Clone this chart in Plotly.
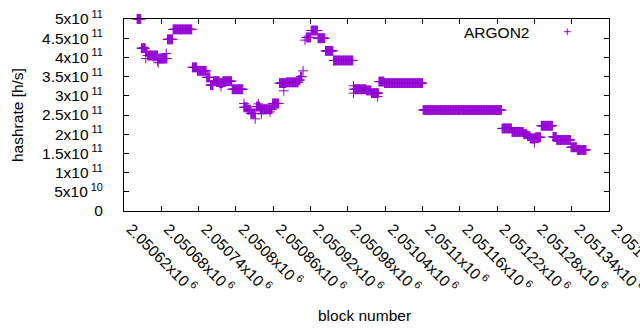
import numpy as np
import plotly.graph_objects as go

# Runs of consecutive blocks with a constant hashrate estimate (h/s)
seg_start = [2050641, 2050648, 2050655, 2050658, 2050676, 2050690, 2050699, 2050730,
             2050738, 2050753, 2050759, 2050764, 2050774, 2050779, 2050794, 2050813,
             2050819, 2050824, 2050833, 2050839, 2050859, 2050870, 2050881, 2050901,
             2050904, 2050913, 2050921, 2050932, 2050944, 2050957, 2050990, 2051010,
             2051018, 2051030, 2051039, 2051101, 2051228, 2051244, 2051263, 2051269,
             2051274, 2051282, 2051291, 2051310, 2051316, 2051339, 2051349]
seg_end = [2050647, 2050654, 2050657, 2050674, 2050689, 2050698, 2050729, 2050737,
           2050752, 2050758, 2050763, 2050773, 2050778, 2050793, 2050811, 2050818,
           2050823, 2050831, 2050838, 2050858, 2050869, 2050880, 2050900, 2050903,
           2050906, 2050920, 2050931, 2050943, 2050956, 2050988, 2051009, 2051017,
           2051029, 2051038, 2051100, 2051227, 2051243, 2051262, 2051268, 2051273,
           2051281, 2051290, 2051309, 2051315, 2051338, 2051348, 2051363]
seg_rate = [5.00e11, 4.24e11, 4.15e11, 4.05e11, 3.97e11, 4.47e11, 4.73e11, 3.74e11,
            3.65e11, 3.48e11, 3.28e11, 3.38e11, 3.33e11, 3.38e11, 3.17e11, 2.70e11,
            2.64e11, 2.54e11, 2.72e11, 2.65e11, 2.80e11, 3.33e11, 3.35e11, 3.41e11,
            3.50e11, 4.52e11, 4.70e11, 4.50e11, 4.17e11, 3.92e11, 3.17e11, 3.14e11,
            3.07e11, 3.37e11, 3.33e11, 2.63e11, 2.15e11, 2.06e11, 2.00e11, 1.95e11,
            1.89e11, 1.92e11, 2.22e11, 1.93e11, 1.85e11, 1.66e11, 1.59e11]

# Isolated blocks
pt_block = [2050655, 2050674, 2050675, 2050688, 2050776, 2050813, 2050831, 2050836,
            2050841, 2050855, 2050877, 2050908, 2050911, 2050989, 2050989, 2051028,
            2051280]
pt_rate = [3.97e11, 3.91e11, 3.86e11, 4.10e11, 3.24e11, 2.80e11, 2.40e11, 2.79e11,
           2.53e11, 2.58e11, 3.13e11, 3.65e11, 4.45e11, 3.26e11, 3.07e11, 2.98e11,
           1.78e11]

x_tick_vals = [2050620 + 60 * i for i in range(14)]
x_tick_mant = ["2.05062", "2.05068", "2.05074", "2.0508", "2.05086", "2.05092", "2.05098",
               "2.05104", "2.0511", "2.05116", "2.05122", "2.05128", "2.05134", "2.0514"]
y_tick_vals = [0, 5e10, 1e11, 1.5e11, 2e11, 2.5e11, 3e11, 3.5e11, 4e11, 4.5e11, 5e11]
y_tick_text = ["0", "5x10<sup> 10</sup>", "1x10<sup> 11</sup>", "1.5x10<sup> 11</sup>",
               "2x10<sup> 11</sup>", "2.5x10<sup> 11</sup>", "3x10<sup> 11</sup>",
               "3.5x10<sup> 11</sup>", "4x10<sup> 11</sup>", "4.5x10<sup> 11</sup>",
               "5x10<sup> 11</sup>"]

xs, ys = [], []
for s, e, r in zip(seg_start, seg_end, seg_rate):
    for b in range(s, e + 1):
        xs.append(b)
        ys.append(r)
xs += pt_block
ys += pt_rate

COLOR = "#9400D3"
FONT = "Liberation Sans, Arial, sans-serif"
FS = 15.5

fig = go.Figure()
fig.add_trace(go.Scatter(
    x=xs, y=ys, mode="markers", name="ARGON2", cliponaxis=False,
    marker=dict(symbol="cross-thin", size=7, color=COLOR,
                line=dict(color=COLOR, width=1)),
    showlegend=False, hoverinfo="skip",
))

L, R, T, B = 124, 31, 19, 119
W, H = 640, 330
pw, ph = W - L - R, H - T - B

def px2paper(px, py):
    return (px - L) / pw, (H - B - py) / ph

# legend (gnuplot style: text then sample)
ax_, ay_ = px2paper(531, 32)
fig.add_annotation(x=ax_, y=ay_, xref="paper", yref="paper", text="ARGON2",
                   showarrow=False, xanchor="right", yanchor="middle",
                   font=dict(family=FONT, size=FS, color="black"))
cx, cy = px2paper(567.3, 31.7)
dx, dy = 3.3 / pw, 3.3 / ph
fig.add_shape(type="line", xref="paper", yref="paper", x0=cx - dx, x1=cx + dx, y0=cy, y1=cy,
              line=dict(color=COLOR, width=1))
fig.add_shape(type="line", xref="paper", yref="paper", x0=cx, x1=cx, y0=cy - dy, y1=cy + dy,
              line=dict(color=COLOR, width=1))

# axis titles
tx, ty = px2paper(17, 115)
fig.add_annotation(x=tx, y=ty, xref="paper", yref="paper", text="hashrate [h/s]",
                   textangle=-90, showarrow=False, xanchor="center", yanchor="middle",
                   font=dict(family=FONT, size=FS, color="black"))
bx, by = px2paper(364, 315)
fig.add_annotation(x=bx, y=by, xref="paper", yref="paper", text="block number",
                   showarrow=False, xanchor="center", yanchor="middle",
                   font=dict(family=FONT, size=FS, color="black"))

fig.update_layout(
    width=W, height=H,
    margin=dict(l=L, r=R, t=T, b=B, pad=0),
    paper_bgcolor="white", plot_bgcolor="white",
    font=dict(family=FONT, size=FS, color="black"),
    xaxis=dict(range=[2050620, 2051400], tickvals=x_tick_vals,
               ticktext=[m + "x10<sup> 6</sup>" for m in x_tick_mant],
               tickangle=45, ticks="inside", ticklen=5, tickcolor="black",
               showline=True, linecolor="black", linewidth=1, mirror="allticks",
               showgrid=False, zeroline=False, automargin=False,
               ticklabeloverflow="allow", ticklabelstandoff=2, ticklabelshift=7,
               tickfont=dict(family=FONT, size=FS)),
    yaxis=dict(range=[0, 5e11], tickvals=y_tick_vals, ticktext=y_tick_text,
               ticks="inside", ticklen=5, tickcolor="black",
               showline=True, linecolor="black", linewidth=1, mirror="allticks",
               showgrid=False, zeroline=False, automargin=False,
               ticklabeloverflow="allow", ticklabelstandoff=17,
               tickfont=dict(family=FONT, size=FS)),
)

fig.write_html("out.html", config={"displayModeBar": False},
               post_script="document.body.style.margin='0px';")
